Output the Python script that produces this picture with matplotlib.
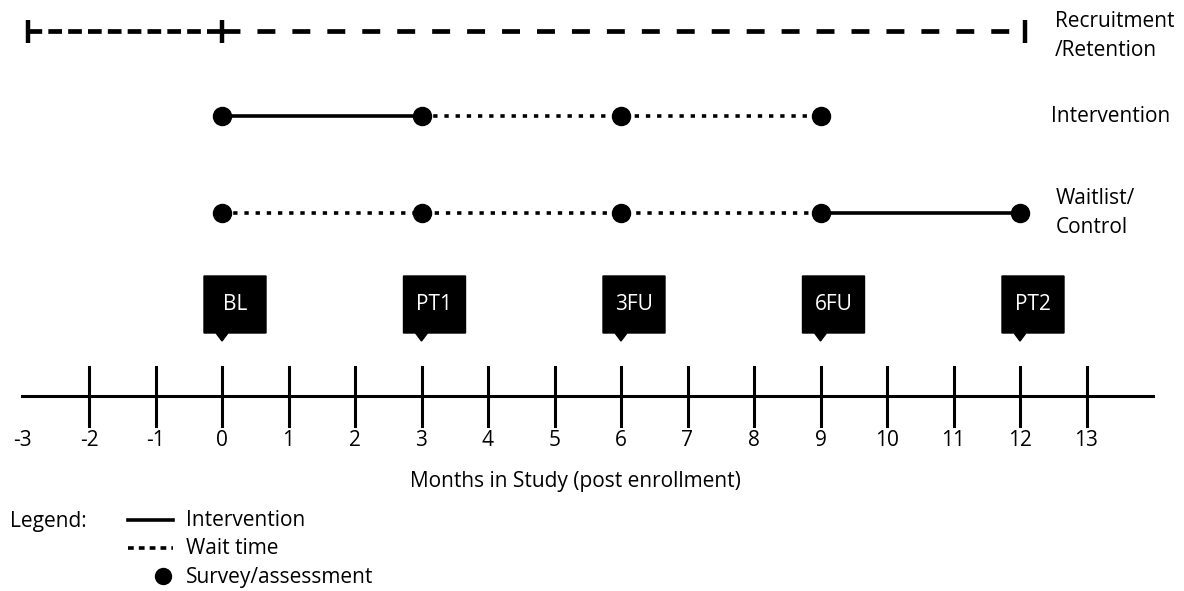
import matplotlib
matplotlib.use("Agg")
import matplotlib.pyplot as plt
from matplotlib.patches import Polygon

plt.rcParams['font.family'] = ['Open Sans', 'DejaVu Sans']

# data
tick_months = list(range(-2, 14))
label_months = list(range(-3, 14))
assess_months = [0, 3, 6, 9, 12]
assess_names = ['BL', 'PT1', '3FU', '6FU', 'PT2']
recruit_start, recruit_zero, recruit_end = -2.92, 0, 12.08
interv_active = [0, 3]
interv_wait = [3, 9]
interv_points = [0, 3, 6, 9]
wait_wait = [0, 9]
wait_active = [9, 12]
wait_points = [0, 3, 6, 9, 12]
row_names = ['Recruitment\n/Retention', 'Intervention', 'Waitlist/\nControl']

px = 66.5  # pixels per month
x0 = 222   # pixel of month 0


def mx(p):
    # pixel column -> month units
    return (p - x0) / px


fig = plt.figure(figsize=(11.84, 5.91), dpi=100)
ax = fig.add_axes([0, 0, 1, 1])
ax.set_xlim(mx(0), mx(1184))
ax.set_ylim(591, 0)
ax.axis('off')

FS = 15

# recruitment / retention
yr = 31
ax.plot([recruit_start, recruit_zero], [yr, yr], color='black', lw=3.4,
        dashes=(2.9, 1.3), dash_capstyle='butt')
ax.plot([recruit_zero, recruit_end], [yr, yr], color='black', lw=3.4,
        dashes=(3.8, 3.6), dash_capstyle='butt')
for m in [recruit_start, recruit_zero, recruit_end]:
    ax.plot([m, m], [20, 43], color='black', lw=3.2, solid_capstyle='butt')

# intervention arm
y1 = 116
ax.plot(interv_active, [y1, y1], color='black', lw=2.6)
ax.plot(interv_wait, [y1, y1], color='black', lw=2.6, dashes=(1.2, 1.9))
ax.plot(interv_points, [y1] * len(interv_points), 'o', color='black', ms=13)

# waitlist arm
y2 = 213
ax.plot(wait_wait, [y2, y2], color='black', lw=2.6, dashes=(1.2, 1.9))
ax.plot(wait_active, [y2, y2], color='black', lw=2.6)
ax.plot(wait_points, [y2] * len(wait_points), 'o', color='black', ms=13)

# row labels
ax.text(mx(1055), 36, row_names[0], fontsize=FS, va='center', ha='left', linespacing=1.5)
ax.text(mx(1051), 117, row_names[1], fontsize=FS, va='center', ha='left')
ax.text(mx(1056), 213, row_names[2], fontsize=FS, va='center', ha='left', linespacing=1.5)

# callouts
left, right = 18 / px, 44 / px
tw = 6 / px
for m, name in zip(assess_months, assess_names):
    pts = [(m - left, 276), (m + right, 276), (m + right, 333), (m + tw, 333),
           (m, 341), (m - tw, 333), (m - left, 333)]
    ax.add_patch(Polygon(pts, closed=True, facecolor='black', edgecolor='black'))
    ax.text(m + (right - left) / 2, 305, name, color='white', fontsize=FS,
            ha='center', va='center')

# timeline axis
ax.plot([mx(22), mx(1153)], [396, 396], color='black', lw=2.2)
for m in tick_months:
    ax.plot([m, m], [367, 426], color='black', lw=2.2)
for m in label_months:
    ax.text(m, 440, str(m), fontsize=FS, ha='center', va='center')
ax.text(mx(575), 481, 'Months in Study (post enrollment)', fontsize=FS,
        ha='center', va='center')

# legend
lx0, lx1 = mx(128), mx(173)
tx = mx(186)
ax.text(mx(10), 522, 'Legend:', fontsize=FS, ha='left', va='center')
ax.plot([lx0, lx1], [520, 520], color='black', lw=2.6)
ax.text(tx, 520, 'Intervention', fontsize=FS, ha='left', va='center')
ax.plot([lx0, lx1], [548, 548], color='black', lw=2.6, dashes=(1.6, 1.4))
ax.text(tx, 548, 'Wait time', fontsize=FS, ha='left', va='center')
ax.plot([mx(163)], [576], 'o', color='black', ms=11.5)
ax.text(tx, 577, 'Survey/assessment', fontsize=FS, ha='left', va='center')

fig.savefig('out.png', dpi=100)
